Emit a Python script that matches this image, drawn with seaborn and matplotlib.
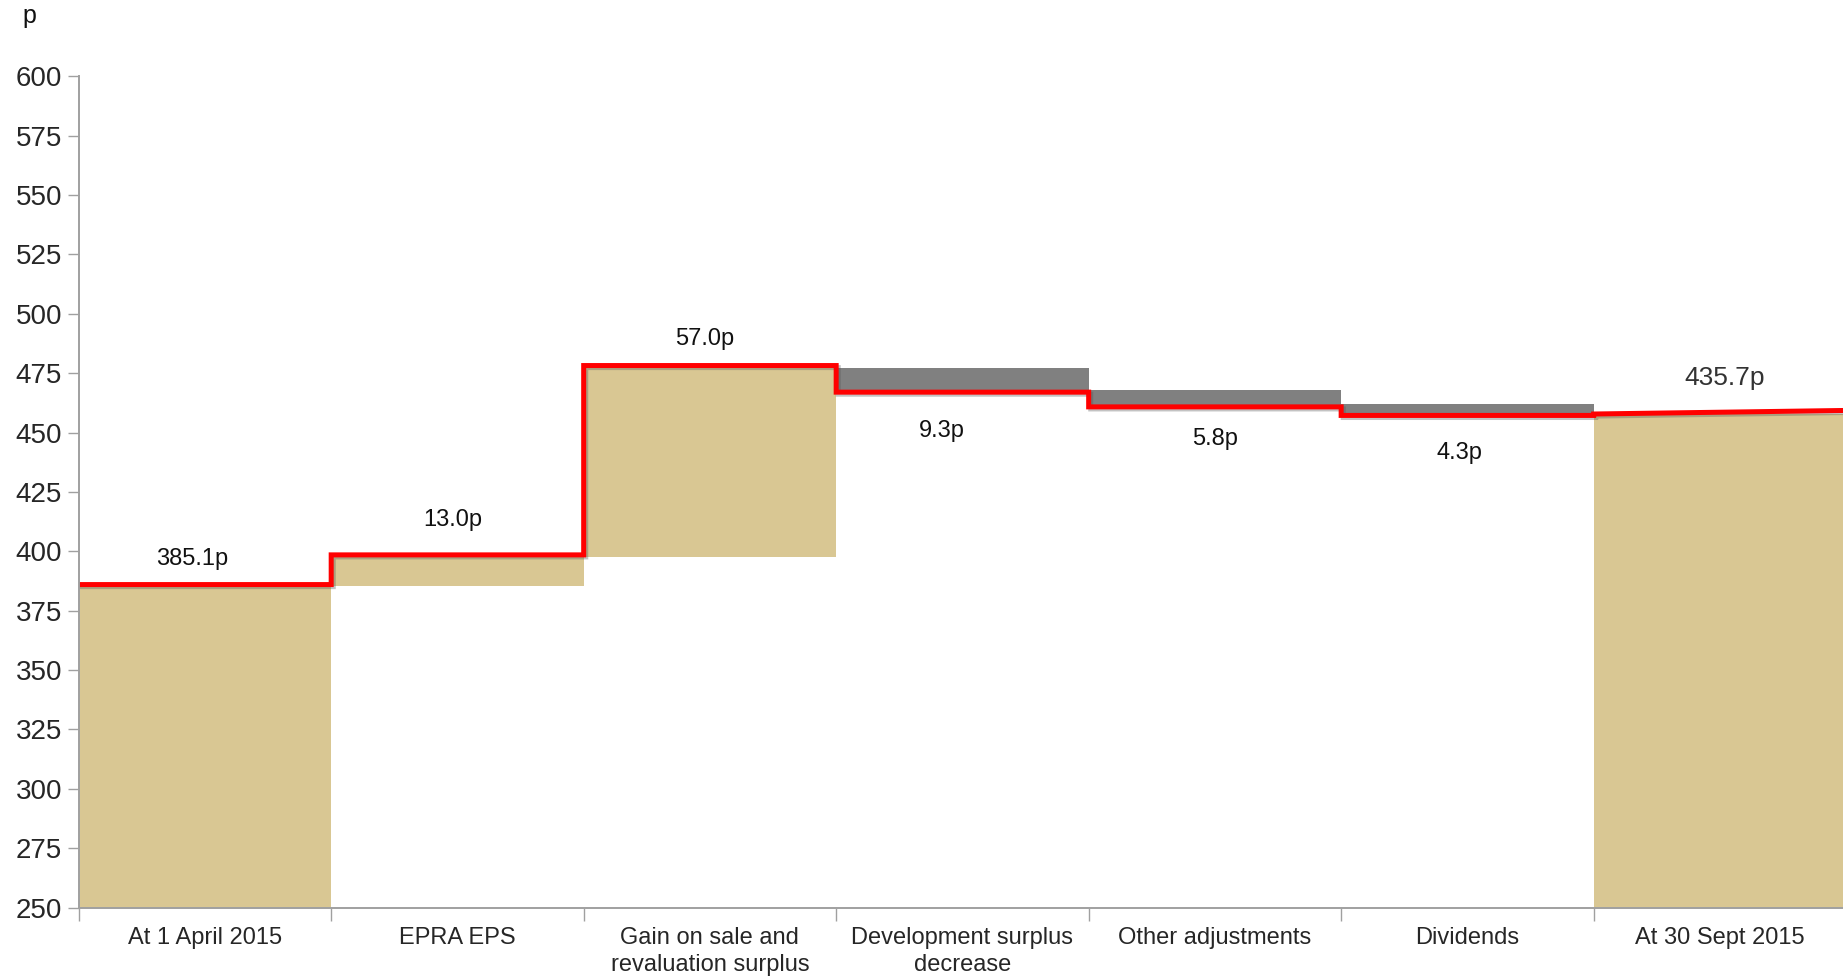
import matplotlib
matplotlib.use("Agg")
import matplotlib.pyplot as plt
import matplotlib.patheffects as pe
import seaborn as sns
import pandas as pd
import numpy as np

# ---- data ----
categories = ["At 1 April 2015", "EPRA EPS", "Gain on sale and\nrevaluation surplus",
              "Development surplus\ndecrease", "Other adjustments", "Dividends", "At 30 Sept 2015"]
bar_bottoms = [0.0, 385.3, 397.7, 467.0, 460.8, 457.2, 0.0]
bar_tops = [386.0, 398.5, 478.2, 477.2, 467.8, 462.2, 458.0]
bar_kinds = ["total", "up", "up", "down", "down", "down", "total"]
# level of the red step line over each category (start, end)
line_start = [386.0, 398.5, 478.2, 467.0, 460.8, 457.2, 457.8]
line_end = [386.0, 398.5, 478.2, 467.0, 460.8, 457.2, 459.3]
value_labels = ["385.1p", "13.0p", "57.0p", "9.3p", "5.8p", "4.3p", "435.7p"]
label_x = [-0.05, 0.98, 1.98, 2.92, 4.0, 4.97, 6.02]
label_y = [396.8, 413.2, 489.4, 450.8, 447.3, 441.4, 473.0]
y_ticks = [250, 275, 300, 325, 350, 375, 400, 425, 450, 475, 500, 525, 550, 575, 600]

TAN = "#D9C793"
GREY = "#808080"
RED = "#FF0000"

sns.set_style("white")
plt.rcParams["font.family"] = ["Liberation Sans", "DejaVu Sans"]

fig = plt.figure(figsize=(18.43, 9.77), dpi=100)
ax = fig.add_axes([0.0427, 0.071, 0.959, 0.851])

df = pd.DataFrame({
    "cat": categories,
    "height": np.array(bar_tops) - np.array(bar_bottoms),
})
sns.barplot(data=df, x="cat", y="height", order=categories, bottom=bar_bottoms,
            width=1.0, color=TAN, edgecolor="none", linewidth=0, ax=ax, zorder=1)
for patch, kind in zip(ax.patches, bar_kinds):
    patch.set_facecolor(GREY if kind == "down" else TAN)

# red step line
xs, ys = [], []
for i in range(len(categories)):
    xs += [i - 0.5, i + 0.5]
    ys += [line_start[i], line_end[i]]
ax.plot(xs, ys, color=RED, lw=3.6, solid_joinstyle="miter", zorder=5,
        path_effects=[pe.SimpleLineShadow(offset=(1.5, -1.5), shadow_color="#555555", alpha=0.35),
                      pe.Normal()])

# value labels
for i, (t, xx, yy) in enumerate(zip(value_labels, label_x, label_y)):
    last = i == len(value_labels) - 1
    ax.text(xx, yy, t, ha="center", va="center",
            fontsize=19 if last else 17, color="#333333" if last else "#111111")

ax.set_ylim(250, 600)
ax.set_xlim(-0.5, 6.5)
ax.set_yticks(y_ticks)
ax.set_yticklabels([str(v) for v in y_ticks], fontsize=20)
ax.set_xticks(range(len(categories)))
ax.set_xticklabels(categories, fontsize=17, linespacing=1.3)
ax.set_xticks(np.arange(-0.5, 6.0, 1.0), minor=True)
ax.tick_params(axis="x", which="major", length=0, pad=14, bottom=True)
ax.tick_params(axis="x", which="minor", length=9, width=1, color="#A0A0A0",
               direction="out", bottom=True)
ax.tick_params(axis="y", which="major", length=8, width=1, color="#A0A0A0",
               direction="out", pad=4, left=True)
ax.set_xlabel("")
ax.set_ylabel("")
for s in ["top", "right"]:
    ax.spines[s].set_visible(False)
for s in ["left", "bottom"]:
    ax.spines[s].set_color("#A0A0A0")
    ax.spines[s].set_linewidth(1.4)
    ax.spines[s].set_zorder(6)

fig.text(0.016, 0.984, "p", fontsize=18, ha="center", va="center", color="#111111")

fig.savefig("out.png", dpi=100, facecolor="white")
